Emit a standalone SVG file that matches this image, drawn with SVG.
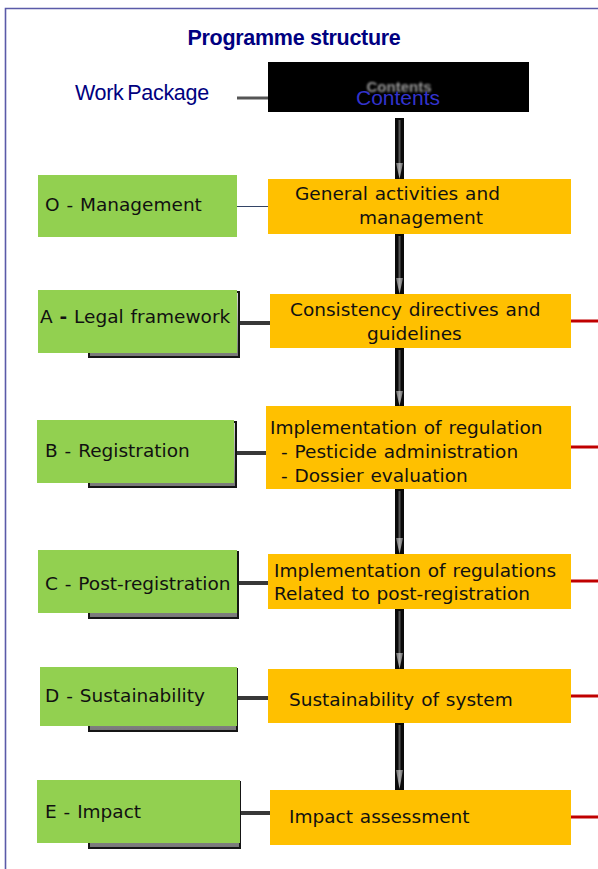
<svg xmlns="http://www.w3.org/2000/svg" width="598" height="869" viewBox="0 0 598 869">
<defs>
<linearGradient id="sh" x1="0" y1="0" x2="0" y2="1"><stop offset="0" stop-color="#d8d8d8"/><stop offset="1" stop-color="#777"/></linearGradient>
<linearGradient id="ah" x1="0" y1="0" x2="1" y2="0"><stop offset="0" stop-color="#666"/><stop offset="0.5" stop-color="#aaa"/><stop offset="1" stop-color="#666"/></linearGradient>
<filter id="blur" x="-10%" y="-30%" width="120%" height="160%"><feGaussianBlur stdDeviation="0.8"/></filter>
</defs>
<style>
.green{fill:#92D050}
.orange{fill:#FFC000}
.shadow{fill:url(#sh);stroke:#151515;stroke-width:2}
.t{font-family:"DejaVu Sans",Verdana,sans-serif;font-size:18.5px;fill:#111;word-spacing:1px}
.nav{font-family:"Liberation Sans",Arial,sans-serif;fill:#000080}
.hbar{stroke:#383838;stroke-width:4;fill:none}
.red{stroke:#C00000;stroke-width:3;fill:none}
.vbar{fill:#0a0a0a}
.core{stroke:#555;stroke-width:2}
.head{fill:url(#ah)}
</style>
<rect x="0" y="0" width="598" height="869" fill="#fff"/>
<path d="M5.5 869 V8.5 H598" fill="none" stroke="#5a5aa8" stroke-width="1.6"/>
<text class="nav" x="294" y="45" text-anchor="middle" font-size="21.5" font-weight="bold" letter-spacing="-0.3">Programme structure</text>
<text class="nav" x="75" y="100" font-size="21.5" letter-spacing="-0.3" word-spacing="-2">Work Package</text>

<g id="connectors">
<line x1="237" y1="98" x2="268" y2="98" stroke="#555" stroke-width="3"/>
<line x1="237" y1="206.5" x2="268" y2="206.5" stroke="#334466" stroke-width="1"/>
<line class="hbar" x1="239" y1="323" x2="270" y2="323"/>
<line class="hbar" x1="236" y1="453" x2="266" y2="453"/>
<line class="hbar" x1="239" y1="583" x2="268" y2="583"/>
<line class="hbar" x1="238" y1="698" x2="268" y2="698"/>
<line class="hbar" x1="241" y1="813" x2="270" y2="813"/>
<line class="red" x1="571" y1="321" x2="598" y2="321"/>
<line class="red" x1="571" y1="447" x2="598" y2="447"/>
<line class="red" x1="571" y1="581" x2="598" y2="581"/>
<line class="red" x1="571" y1="696" x2="598" y2="696"/>
<line class="red" x1="571" y1="817" x2="598" y2="817"/>
<rect class="vbar" x="395" y="118" width="9" height="61"/><line class="core" x1="399.5" y1="120" x2="399.5" y2="163"/><polygon class="head" points="396,163 403,163 399.5,179"/>
<rect class="vbar" x="395" y="234" width="9" height="60"/><line class="core" x1="399.5" y1="236" x2="399.5" y2="278"/><polygon class="head" points="396,278 403,278 399.5,294"/>
<rect class="vbar" x="395" y="348" width="9" height="58"/><line class="core" x1="399.5" y1="350" x2="399.5" y2="391"/><polygon class="head" points="396,391 403,391 399.5,406"/>
<rect class="vbar" x="395" y="489" width="9" height="65"/><line class="core" x1="399.5" y1="491" x2="399.5" y2="538"/><polygon class="head" points="396,538 403,538 399.5,554"/>
<rect class="vbar" x="395" y="609" width="9" height="60"/><line class="core" x1="399.5" y1="611" x2="399.5" y2="653"/><polygon class="head" points="396,653 403,653 399.5,669"/>
<rect class="vbar" x="395" y="723" width="9" height="67"/><line class="core" x1="399.5" y1="725" x2="399.5" y2="770"/><polygon class="head" points="396,770 403,770 399.5,789"/>
</g>

<g id="contents">
<rect x="268" y="62" width="261" height="50" fill="#000"/>
<text x="399" y="92" text-anchor="middle" font-family="'Liberation Sans',Arial,sans-serif" font-weight="bold" font-size="15" fill="#9a9a9a" filter="url(#blur)">Contents</text>
<text x="398" y="105" text-anchor="middle" font-family="'Liberation Sans',Arial,sans-serif" font-size="21" fill="#3333cc">Contents</text>
</g>

<g id="wp-O">
<rect class="green" x="38" y="175" width="199" height="62"/>
<text class="t" x="45" y="211" word-spacing="-1">O - Management</text>
</g>
<g id="wp-A">
<rect class="shadow" x="89" y="292" width="150" height="65"/>
<rect class="green" x="38" y="290" width="199" height="63"/>
<text class="t" x="40" y="323">A <tspan font-weight="bold">-</tspan> Legal framework</text>
</g>
<g id="wp-B">
<rect class="shadow" x="89" y="422" width="147" height="65"/>
<rect class="green" x="37" y="420" width="197" height="63"/>
<text class="t" x="45" y="457">B - Registration</text>
</g>
<g id="wp-C">
<rect class="shadow" x="89" y="552" width="149" height="66"/>
<rect class="green" x="38" y="550" width="199" height="63"/>
<text class="t" x="45" y="590">C - Post-registration</text>
</g>
<g id="wp-D">
<rect class="shadow" x="89" y="669" width="148" height="62"/>
<rect class="green" x="40" y="667" width="197" height="59"/>
<text class="t" x="45" y="702">D - Sustainability</text>
</g>
<g id="wp-E">
<rect class="shadow" x="89" y="782" width="151" height="66"/>
<rect class="green" x="37" y="780" width="203" height="63"/>
<text class="t" x="45" y="818">E - Impact</text>
</g>

<g id="c-general">
<rect class="orange" x="268" y="179" width="303" height="55"/>
<text class="t" x="295" y="200">General activities and</text>
<text class="t" x="359" y="224">management</text>
</g>
<g id="c-consistency">
<rect class="orange" x="270" y="294" width="301" height="54"/>
<text class="t" x="290" y="316">Consistency directives and</text>
<text class="t" x="367" y="340">guidelines</text>
</g>
<g id="c-implementation">
<rect class="orange" x="266" y="406" width="305" height="83"/>
<text class="t" x="270" y="434">Implementation of regulation</text>
<text class="t" x="281" y="458">- Pesticide administration</text>
<text class="t" x="281" y="482">- Dossier evaluation</text>
</g>
<g id="c-post">
<rect class="orange" x="268" y="554" width="303" height="55"/>
<text class="t" x="274" y="577">Implementation of regulations</text>
<text class="t" x="274" y="600">Related to post-registration</text>
</g>
<g id="c-sustain">
<rect class="orange" x="268" y="669" width="303" height="54"/>
<text class="t" x="289" y="706">Sustainability of system</text>
</g>
<g id="c-impact">
<rect class="orange" x="270" y="790" width="301" height="55"/>
<text class="t" x="289" y="823" word-spacing="-3">Impact assessment</text>
</g>
</svg>
